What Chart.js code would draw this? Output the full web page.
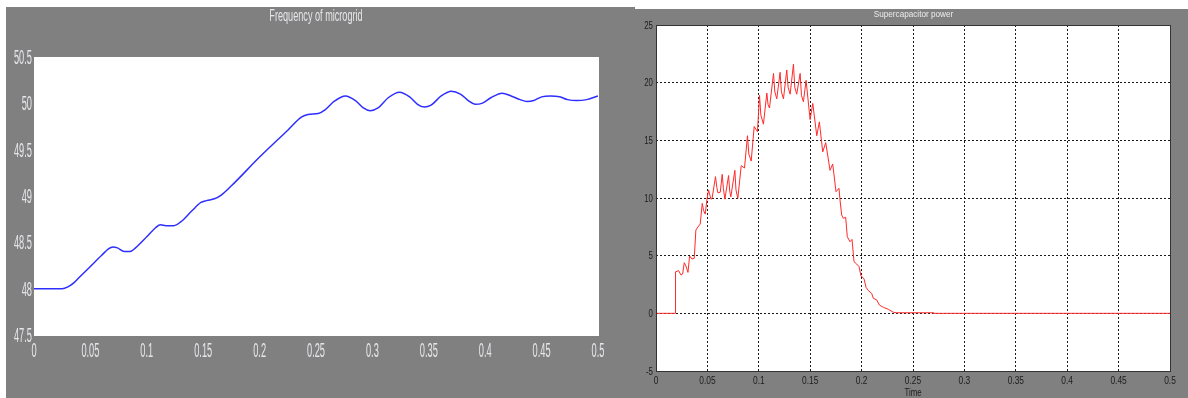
<!DOCTYPE html>
<html>
<head>
<meta charset="utf-8">
<script src="https://cdn.jsdelivr.net/npm/chart.js@4.4.1/dist/chart.umd.min.js"></script>
<style>
  html, body { margin: 0; padding: 0; background: #ffffff; }
  body { width: 1188px; height: 398px; position: relative; overflow: hidden; }
  .panel { position: absolute; background: #808080; }
  canvas { position: absolute; top: 0; }
</style>
</head>
<body>
<div class="panel" style="left:6px; top:7px; width:629px; height:391px;"></div>
<div class="panel" style="left:635px; top:9px; width:553px; height:389px;"></div>
<canvas id="freqChart" width="620" height="398" style="left:0px;"></canvas>
<canvas id="capChart" width="568" height="398" style="left:620px;"></canvas>

<script>
// Microgrid frequency (Hz) over simulation time (s)
const freqTime = [0, 0.025, 0.030, 0.035, 0.040, 0.050, 0.060, 0.066, 0.070, 0.074, 0.080, 0.085,
  0.090, 0.100, 0.108, 0.112, 0.117, 0.124, 0.130, 0.140, 0.148, 0.153, 0.160, 0.166, 0.175,
  0.200, 0.225, 0.237, 0.243, 0.252, 0.258, 0.266, 0.276, 0.285, 0.292, 0.298, 0.305, 0.314,
  0.324, 0.333, 0.340, 0.346, 0.352, 0.361, 0.370, 0.378, 0.385, 0.391, 0.397, 0.405, 0.415,
  0.423, 0.431, 0.437, 0.443, 0.450, 0.458, 0.466, 0.473, 0.481, 0.490, 0.500];
const freqHz = [48.00, 48.00, 48.02, 48.06, 48.12, 48.24, 48.36, 48.43, 48.45, 48.44, 48.40, 48.40,
  48.44, 48.56, 48.66, 48.69, 48.68, 48.68, 48.72, 48.84, 48.93, 48.95, 48.97, 49.01, 49.11,
  49.42, 49.71, 49.85, 49.88, 49.89, 49.93, 50.02, 50.08, 50.03, 49.95, 49.92, 49.95, 50.06,
  50.12, 50.07, 49.99, 49.96, 49.98, 50.08, 50.13, 50.10, 50.03, 49.99, 50.00, 50.06, 50.11,
  50.08, 50.04, 50.02, 50.03, 50.07, 50.08, 50.07, 50.04, 50.03, 50.04, 50.08];

// Supercapacitor power over simulation time (s)
const capTime = [0, 0.0187, 0.0190, 0.0220, 0.0243, 0.0259, 0.0275, 0.0291, 0.0311, 0.0327, 0.0350,
  0.0372, 0.0388, 0.0414, 0.0430, 0.0450, 0.0463, 0.0479, 0.0495, 0.0511, 0.0534, 0.0545, 0.0579,
  0.0592, 0.0602, 0.0625, 0.0644, 0.0656, 0.0670, 0.0706, 0.0717, 0.0728, 0.0767, 0.0778, 0.0796,
  0.0829, 0.0861, 0.0890, 0.0903, 0.0926,
  0.0955, 0.0987, 0.1007, 0.1020, 0.1045, 0.1078, 0.1090, 0.1104, 0.1143, 0.1156, 0.1175, 0.1207,
  0.1220, 0.1240, 0.1272, 0.1285, 0.1305,
  0.1337, 0.1350, 0.1369, 0.1402, 0.1415, 0.1434, 0.1460, 0.1499, 0.1525, 0.1564, 0.1589, 0.1622,
  0.1651, 0.1693,
  0.1719, 0.1751, 0.1780, 0.1790, 0.1806, 0.1822, 0.1845, 0.1861, 0.1887, 0.1907, 0.1926, 0.1952,
  0.1975, 0.1994, 0.2023, 0.2043, 0.2066, 0.2098, 0.2114, 0.2147, 0.2173, 0.2212, 0.2260, 0.2309,
  0.2341, 0.2697, 0.2700, 0.5000];
const capPower = [0, 0, 3.60, 3.70, 3.32, 3.41, 4.39, 4.10, 3.55, 4.97, 4.71,
  4.77, 7.22, 7.57, 7.74, 9.54, 8.90, 8.61, 9.83, 10.70, 9.90, 9.95, 11.85,
  10.90, 10.45, 10.50, 12.05, 10.80, 9.90, 11.95, 10.60, 10.10, 12.40, 10.70, 9.97,
  12.80, 12.60, 15.40, 13.80, 13.20,
  16.20, 15.75, 18.90, 17.20, 16.40, 19.10, 18.10, 17.80, 20.80, 19.20, 18.60, 20.90,
  19.20, 18.60, 21.10, 19.60, 19.00,
  21.60, 19.60, 19.00, 20.80, 18.90, 18.35, 20.20, 16.80, 18.20, 15.40, 16.60, 14.00,
  14.80, 12.40,
  12.95, 10.55, 10.84, 9.83, 8.53, 8.24, 8.33, 6.64, 6.21, 6.41, 4.48, 4.28,
  4.05, 3.24, 3.01, 2.26, 1.97, 1.73, 1.30, 1.16, 0.72, 0.52, 0.35, 0.09,
  0.05, 0.05, 0, 0];

// Axis ticks
const timeTicks = [0, 0.05, 0.1, 0.15, 0.2, 0.25, 0.3, 0.35, 0.4, 0.45, 0.5];
const timeTickLabels = ['0', '0.05', '0.1', '0.15', '0.2', '0.25', '0.3', '0.35', '0.4', '0.45', '0.5'];
const freqTicks = [47.5, 48, 48.5, 49, 49.5, 50, 50.5];
const freqTickLabels = ['47.5', '48', '48.5', '49', '49.5', '50', '50.5'];
const powerTicks = [-5, 0, 5, 10, 15, 20, 25];
const powerTickLabels = ['-5', '0', '5', '10', '15', '20', '25'];

const FONT = '"Liberation Sans", Arial, sans-serif';

// Narrow scope-style text: draw horizontally compressed, centred on its cap height
function scopeText(ctx, text, x, cy, size, sx, color, align) {
  ctx.save();
  ctx.font = size + 'px ' + FONT;
  ctx.fillStyle = color;
  ctx.textAlign = align;
  ctx.textBaseline = 'alphabetic';
  ctx.translate(x, cy + 0.358 * size);
  ctx.scale(sx, 1);
  ctx.fillText(text, 0, 0);
  ctx.restore();
}

const whitePlot = {
  id: 'whitePlot',
  beforeDraw(chart) {
    const a = chart.chartArea, ctx = chart.ctx;
    ctx.save();
    ctx.fillStyle = '#ffffff';
    ctx.fillRect(a.left, a.top, a.right - a.left + 1, a.bottom - a.top + 1);
    ctx.restore();
  }
};

const freqText = {
  id: 'freqText',
  afterDraw(chart) {
    const ctx = chart.ctx, xs = chart.scales.x, ys = chart.scales.y, a = chart.chartArea;
    const c = '#e6e6ea';
    freqTicks.forEach((v, i) => scopeText(ctx, freqTickLabels[i], a.left - 2, ys.getPixelForValue(v), 19.5, 0.475, c, 'right'));
    timeTicks.forEach((v, i) => scopeText(ctx, timeTickLabels[i], xs.getPixelForValue(v), 350, 19.5, 0.475, c, 'center'));
    scopeText(ctx, 'Frequency of microgrid', (a.left + a.right) / 2, 15, 16, 0.57, c, 'center');
  }
};

const capText = {
  id: 'capText',
  afterDraw(chart) {
    const ctx = chart.ctx, xs = chart.scales.x, ys = chart.scales.y, a = chart.chartArea;
    // plot frame
    ctx.save();
    ctx.strokeStyle = '#333333';
    ctx.lineWidth = 1;
    ctx.strokeRect(a.left + 0.5, a.top + 0.5, a.right - a.left, a.bottom - a.top);
    ctx.restore();
    const c = '#1c1c1c';
    powerTicks.forEach((v, i) => scopeText(ctx, powerTickLabels[i], a.left - 3, ys.getPixelForValue(v), 10.5, 0.75, c, 'right'));
    timeTicks.forEach((v, i) => scopeText(ctx, timeTickLabels[i], xs.getPixelForValue(v), a.bottom + 9.5, 10.5, 0.8, c, 'center'));
    scopeText(ctx, 'Time', (a.left + a.right) / 2, 392, 10.5, 0.75, c, 'center');
    scopeText(ctx, 'Supercapacitor power', (a.left + a.right) / 2 + 0.5, 14, 9.5, 0.86, '#ececec', 'center');
  }
};

new Chart(document.getElementById('freqChart'), {
  type: 'line',
  data: {
    datasets: [{
      data: freqTime.map((t, i) => ({ x: t, y: freqHz[i] })),
      borderColor: '#2e2eff',
      borderWidth: 1.5,
      pointRadius: 0,
      cubicInterpolationMode: 'monotone',
      fill: false
    }]
  },
  options: {
    responsive: false,
    animation: false,
    devicePixelRatio: 1,
    events: [],
    layout: { padding: { left: 34, top: 57, right: 22, bottom: 63 } },
    plugins: { legend: { display: false }, tooltip: { enabled: false }, title: { display: false } },
    scales: {
      x: { type: 'linear', min: 0, max: 0.5, display: false },
      y: { type: 'linear', min: 47.5, max: 50.5, display: false }
    }
  },
  plugins: [whitePlot, freqText]
});

new Chart(document.getElementById('capChart'), {
  type: 'line',
  data: {
    datasets: [{
      data: capTime.map((t, i) => ({ x: t, y: capPower[i] })),
      borderColor: '#ff2a2a',
      borderWidth: 1.0,
      pointRadius: 0,
      tension: 0,
      fill: false
    }]
  },
  options: {
    responsive: false,
    animation: false,
    devicePixelRatio: 1,
    events: [],
    layout: { padding: { left: 36, top: 25, right: 18, bottom: 27 } },
    plugins: { legend: { display: false }, tooltip: { enabled: false }, title: { display: false } },
    scales: {
      x: {
        type: 'linear', min: 0, max: 0.5,
        afterBuildTicks: s => { s.ticks = timeTicks.map(v => ({ value: v })); },
        ticks: { display: false },
        grid: { drawTicks: false, color: '#1a1a1a', lineWidth: 1 },
        border: { display: false, dash: [2, 2] }
      },
      y: {
        type: 'linear', min: -5, max: 25,
        afterBuildTicks: s => { s.ticks = powerTicks.map(v => ({ value: v })); },
        ticks: { display: false },
        grid: { drawTicks: false, color: '#1a1a1a', lineWidth: 1 },
        border: { display: false, dash: [2, 2] }
      }
    }
  },
  plugins: [whitePlot, capText]
});
</script>
</body>
</html>
